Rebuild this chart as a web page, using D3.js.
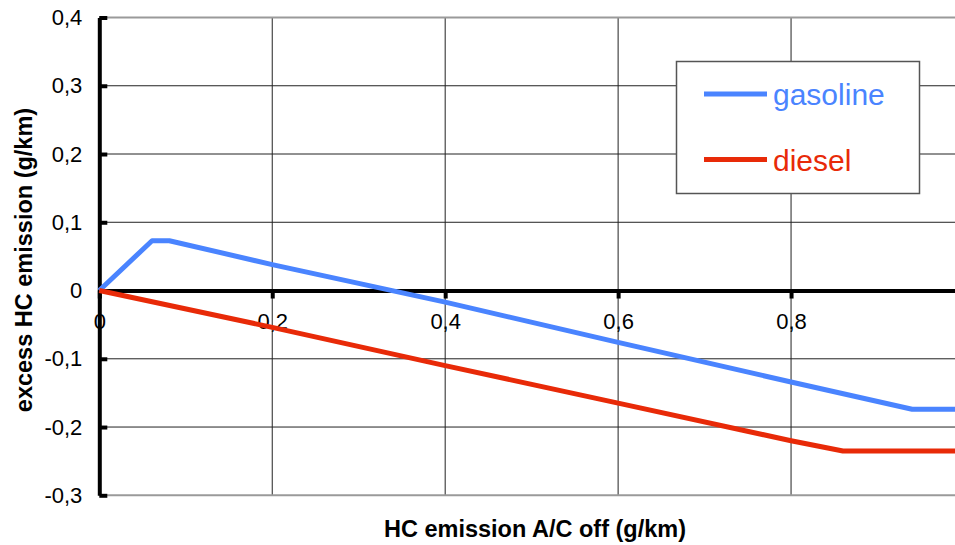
<!DOCTYPE html>
<html>
<head>
<meta charset="utf-8">
<script src="https://cdn.jsdelivr.net/npm/d3@7"></script>
<style>
  html, body { margin: 0; padding: 0; background: #fff; }
  svg { display: block; font-family: "Liberation Sans", Arial, Helvetica, sans-serif; }
</style>
</head>
<body>
<svg id="chart" width="955" height="545"></svg>
<script>
// ---- data ----
const gasolineX = [0, 0.061, 0.081, 0.2, 0.4, 0.6, 0.8, 0.94, 1.0];
const gasolineY = [0, 0.073, 0.073, 0.038, -0.017, -0.076, -0.134, -0.174, -0.174];
const dieselX = [0, 0.2, 0.4, 0.6, 0.8, 0.86, 1.0];
const dieselY = [0, -0.054, -0.110, -0.165, -0.220, -0.235, -0.235];
const seriesNames = ["gasoline", "diesel"];
const seriesColors = ["#4a84ff", "#e82a08"];
const xTicks = [0, 0.2, 0.4, 0.6, 0.8];
const xTickLabels = ["0", "0,2", "0,4", "0,6", "0,8"];
const yTicks = [-0.3, -0.2, -0.1, 0, 0.1, 0.2, 0.3, 0.4];
const yTickLabels = ["-0,3", "-0,2", "-0,1", "0", "0,1", "0,2", "0,3", "0,4"];
const xTitle = "HC emission A/C off (g/km)";
const yTitle = "excess HC emission (g/km)";

(function () {
// ---- layout ----
const svg = d3.select("#chart");
const pL = 99.3, pR = 964, pT = 17.5, pB = 495.3;
const x = d3.scaleLinear().domain([0, 1]).range([pL, pR]);
const y = d3.scaleLinear().domain([-0.3, 0.4]).range([pB, pT]);

// ---- grid ----
const grid = svg.append("g");
grid.selectAll("line.h")
  .data(yTicks.filter(v => v !== 0 && v !== 0.4 && v !== -0.3))
  .join("line")
  .attr("x1", pL).attr("x2", 955)
  .attr("y1", d => y(d)).attr("y2", d => y(d))
  .attr("stroke", "#222").attr("stroke-width", 1);
grid.selectAll("line.v")
  .data(xTicks.filter(v => v !== 0))
  .join("line")
  .attr("x1", d => x(d)).attr("x2", d => x(d))
  .attr("y1", pT).attr("y2", pB)
  .attr("stroke", "#222").attr("stroke-width", 1);
grid.selectAll("line.b")
  .data([0.4, -0.3])
  .join("line")
  .attr("x1", pL).attr("x2", 955)
  .attr("y1", d => y(d)).attr("y2", d => y(d))
  .attr("stroke", "#9a9a9a").attr("stroke-width", 2);

// ---- axes ----
const yAxis = d3.axisLeft(y)
  .tickValues(yTicks)
  .tickFormat((d, i) => yTickLabels[i])
  .tickSize(-8).tickSizeOuter(0).tickPadding(17);
const gy = svg.append("g").attr("transform", `translate(${pL},0)`).call(yAxis);
gy.select(".domain").attr("stroke", "#000").attr("stroke-width", 4);
gy.selectAll(".tick line").attr("stroke", "#000").attr("stroke-width", 4);
gy.selectAll(".tick text").attr("font-size", 22).attr("fill", "#000")
  .attr("font-family", "Liberation Sans, Arial, sans-serif");

const xAxis = d3.axisBottom(x)
  .tickValues(xTicks)
  .tickFormat((d, i) => xTickLabels[i])
  .tickSize(8).tickSizeOuter(0).tickPadding(15);
const gx = svg.append("g").attr("transform", `translate(0,${y(0)})`).call(xAxis);
gx.select(".domain").attr("stroke", "#000").attr("stroke-width", 4);
gx.selectAll(".tick line").attr("stroke", "#000").attr("stroke-width", 4);
gx.selectAll(".tick text").attr("font-size", 22).attr("fill", "#000")
  .attr("font-family", "Liberation Sans, Arial, sans-serif");

// ---- lines ----
const seriesData = [
  gasolineX.map((v, i) => [v, gasolineY[i]]),
  dieselX.map((v, i) => [v, dieselY[i]])
];
const line = d3.line().x(d => x(d[0])).y(d => y(d[1]));
svg.append("g").selectAll("path")
  .data(seriesData)
  .join("path")
  .attr("d", line)
  .attr("fill", "none")
  .attr("stroke", (d, i) => seriesColors[i])
  .attr("stroke-width", 5)
  .attr("stroke-linejoin", "round");

// ---- axis titles ----
svg.append("text")
  .attr("x", 535).attr("y", 537)
  .attr("text-anchor", "middle")
  .attr("font-size", 23.5).attr("font-weight", "bold")
  .text(xTitle);
svg.append("text")
  .attr("transform", "translate(32,260) rotate(-90)")
  .attr("text-anchor", "middle")
  .attr("font-size", 23.5).attr("font-weight", "bold")
  .text(yTitle);

// ---- legend ----
const lg = svg.append("g");
lg.append("rect")
  .attr("x", 676.5).attr("y", 61.5).attr("width", 243).attr("height", 132)
  .attr("fill", "#fff").attr("stroke", "#555").attr("stroke-width", 1.5);
const legendRowY = [94, 159.5];
seriesNames.forEach((name, i) => {
  lg.append("line")
    .attr("x1", 704).attr("x2", 767)
    .attr("y1", legendRowY[i]).attr("y2", legendRowY[i])
    .attr("stroke", seriesColors[i]).attr("stroke-width", 5);
  lg.append("text")
    .attr("x", 773).attr("y", legendRowY[i] + 11)
    .attr("font-size", 30).attr("fill", seriesColors[i])
    .text(name);
});
})();
</script>
</body>
</html>
